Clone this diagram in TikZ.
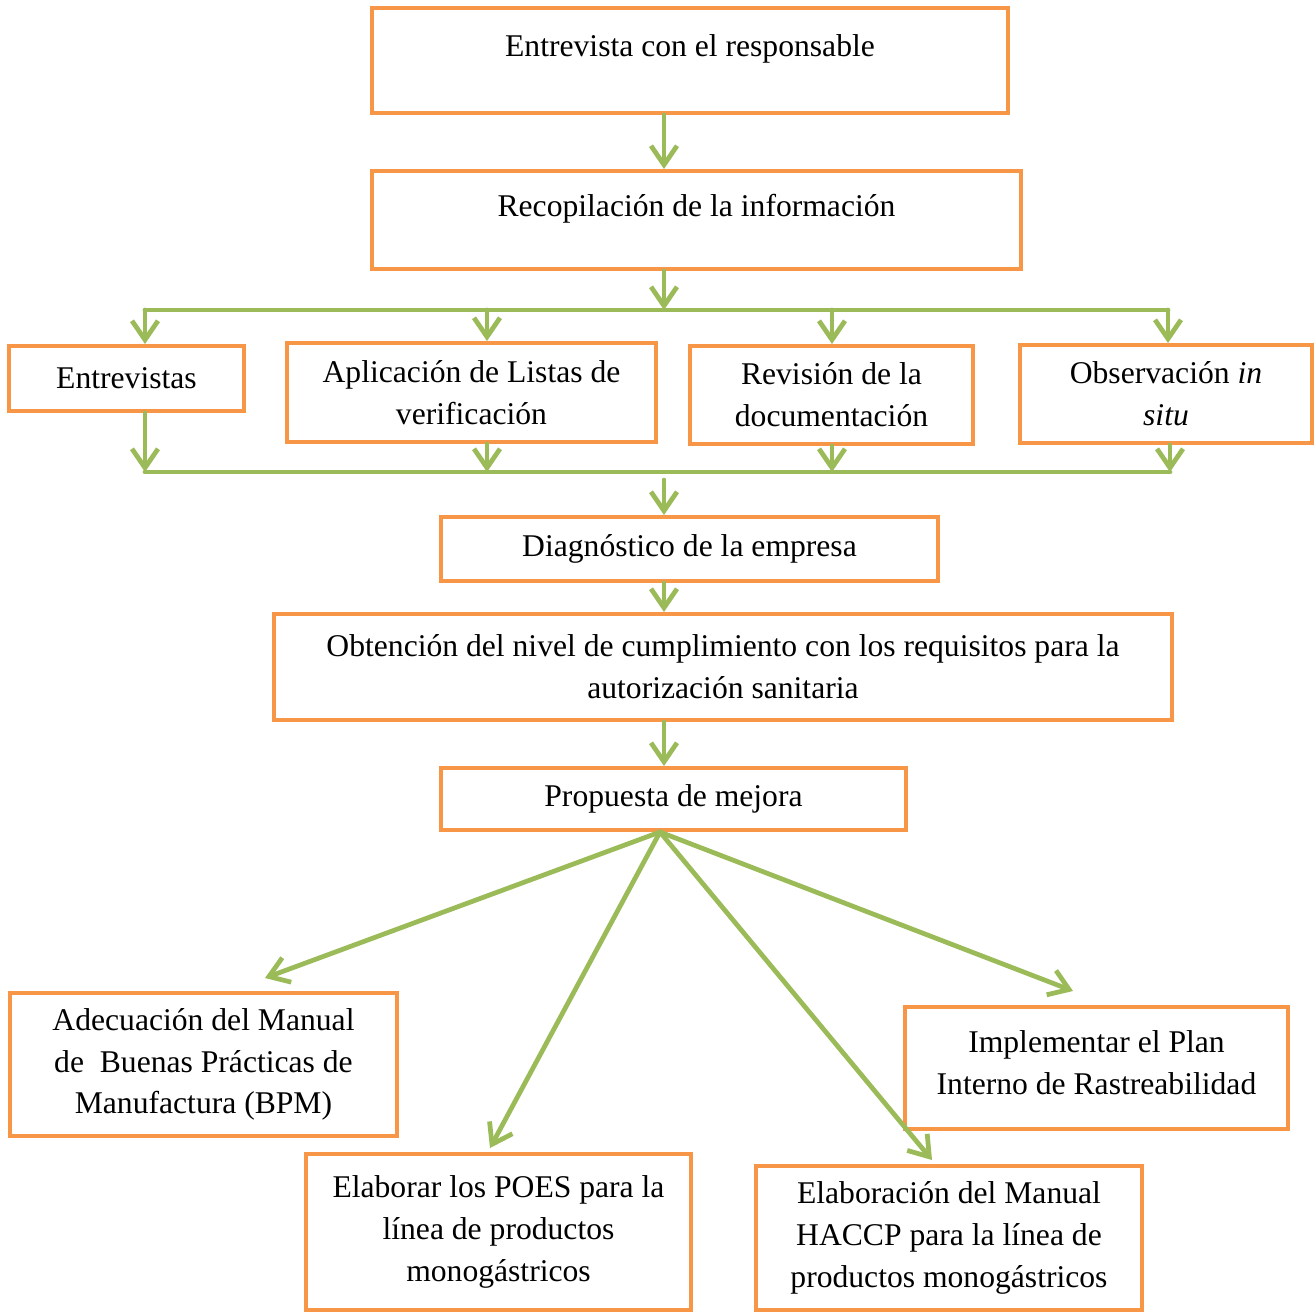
\documentclass[tikz,border=0pt]{standalone}
\usepackage{fontspec}
\setmainfont{Liberation Serif}
\usepackage{xcolor}
\usepackage{tikz}
\usetikzlibrary{arrows.meta}

\definecolor{boxorange}{HTML}{F79646}
\definecolor{arrowgreen}{HTML}{9BBB59}

\begin{document}
\begin{tikzpicture}[
			x=0.02cm, y=-0.02cm,
			font=\fontsize{18}{23.8}\selectfont,
			box/.style = {rectangle, draw=boxorange, line width=2.3pt,
					align=center, inner sep=2pt},
			line/.style = {draw=arrowgreen, line width=2.7pt, line cap=round},
			arr/.style = {line, -{Straight Barb[length=0.38cm, width=0.52cm, line width=2.7pt]}},
		]
		\useasboundingbox (0,0) rectangle (1316,1312);

		% Top of the chain
		\node [box, minimum width=12.72cm, minimum height=2.10cm,
			label={[yshift=0.24cm]center:Entrevista con el responsable}] (resp) at (690,60.5) {};
		\node [box, minimum width=12.98cm, minimum height=1.96cm,
			label={[yshift=0.23cm]center:Recopilación de la información}] (recop) at (696.5,220) {};

		% Sources of information
		\node [box, minimum width=4.70cm, minimum height=1.30cm] (entrev) at (126.5,378.5) {Entrevistas};
		\node [box, minimum width=7.38cm, minimum height=1.98cm] (listas) at (471.5,392.5) {Aplicación de Listas de\\verificación};
		\node [box, minimum width=5.66cm, minimum height=1.96cm] (docum) at (831.5,395) {Revisión de la\\documentación};
		\node [box, minimum width=5.84cm, minimum height=1.96cm] (observ) at (1166,394) {Observación \textit{in}\\\textit{situ}};

		% Diagnosis
		\node [box, minimum width=9.94cm, minimum height=1.28cm] (diag) at (689.5,549) {Diagnóstico de la empresa};
		\node [box, minimum width=17.96cm, minimum height=2.12cm] (nivel) at (723,667) {Obtención del nivel de cumplimiento con los requisitos para la\\autorización sanitaria};
		\node [box, minimum width=9.30cm, minimum height=1.24cm] (mejora) at (673.5,799) {Propuesta de mejora};

		% Proposals
		\node [box, minimum width=7.74cm, minimum height=2.86cm] (bpm) at (203.5,1064.5) {Adecuación del Manual\\de\ \ Buenas Prácticas de\\Manufactura (BPM)};
		\node [box, minimum width=7.70cm, minimum height=3.12cm] (poes) at (498.5,1232) {Elaborar los POES para la\\línea de productos\\monogástricos};
		\node [box, minimum width=7.72cm, minimum height=2.88cm] (haccp) at (949,1238) {Elaboración del Manual\\HACCP para la línea de\\productos monogástricos};
		\node [box, minimum width=7.66cm, minimum height=2.44cm,
			label={[yshift=0.10cm, align=center]center:Implementar el Plan\\Interno de Rastreabilidad}] (rastreo) at (1096.5,1068) {};

		% Bus coordinates
		\coordinate (spine) at (664,0);
		\coordinate (top1) at (145,310);
		\coordinate (top2) at (487,310);
		\coordinate (top3) at (832,310);
		\coordinate (top4) at (1168,310);
		\coordinate (bot1) at (145,472);
		\coordinate (bot2) at (487,472);
		\coordinate (bot3) at (832,472);
		\coordinate (bot4) at (1170,472);

		% Draw arrows
		\path [arr] (resp.south -| spine) -- (recop.north -| spine);
		\path [arr] (recop.south -| spine) -- (spine |- top1);
		\path [line] (top1) -- (top4);
		\path [arr] (top1) -- (entrev.north -| top1);
		\path [arr] (top2) -- (listas.north -| top2);
		\path [arr] (top3) -- (docum.north -| top3);
		\path [arr] (top4) -- (observ.north -| top4);

		\path [arr] (entrev.south -| bot1) -- (bot1);
		\path [arr] (listas.south -| bot2) -- (bot2);
		\path [arr] (docum.south -| bot3) -- (bot3);
		\path [arr] (observ.south -| bot4) -- (bot4);
		\path [line] (bot1) -- (bot4);
		\path [arr] ([yshift=-0.16cm]spine |- bot1) -- (diag.north -| spine);

		\path [arr] (diag.south -| spine) -- (nivel.north -| spine);
		\path [arr] (nivel.south -| spine) -- (mejora.north -| spine);

		\path [arr] ([xshift=-0.27cm]mejora.south) -- ([shift={(1.23cm,0.26cm)}]bpm.north);
		\path [arr] ([xshift=-0.27cm]mejora.south) -- ([shift={(-0.17cm,0.08cm)}]poes.north);
		\path [arr] ([xshift=-0.27cm]mejora.south) -- ([shift={(-0.34cm,0.08cm)}]haccp.north);
		\path [arr] ([xshift=-0.27cm]mejora.south) -- ([shift={(-0.47cm,0.28cm)}]rastreo.north);

	\end{tikzpicture}
\end{document}
